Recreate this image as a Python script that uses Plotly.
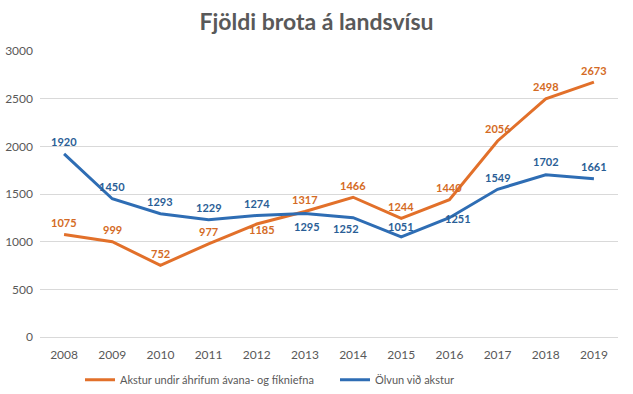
import plotly.graph_objects as go

years = ["2008", "2009", "2010", "2011", "2012", "2013", "2014", "2015", "2016", "2017", "2018", "2019"]
akstur = [1075, 999, 752, 977, 1185, 1317, 1466, 1244, 1440, 2056, 2498, 2673]
olvun = [1920, 1450, 1293, 1229, 1274, 1295, 1252, 1051, 1251, 1549, 1702, 1661]
name_akstur = "Akstur undir áhrifum ávana- og fíkniefna"
name_olvun = "Ölvun við akstur"

# label offsets (pixels) for data labels
shift_akstur = [(0, 12)] * 4 + [(5, -5)] + [(0, 12)] * 7
shift_olvun = [(0, 12)] * 5 + [(2, -13), (-7, -11), (0, 10), (9, -1), (0, 12), (0, 13), (0, 12)]

orange = "#E2702A"
blue = "#2E6DB4"
fnt = "Lato, 'Open Sans', sans-serif"

fig = go.Figure()
fig.add_trace(go.Scatter(x=years, y=akstur, name=name_akstur, mode="lines",
                         line=dict(color=orange, width=3)))
fig.add_trace(go.Scatter(x=years, y=olvun, name=name_olvun, mode="lines",
                         line=dict(color=blue, width=3)))

for vals, shifts, col in [(akstur, shift_akstur, "#D46A24"), (olvun, shift_olvun, "#2A5E96")]:
    for i, (v, (dx, dy)) in enumerate(zip(vals, shifts)):
        fig.add_annotation(x=i, y=v, text="<b>%d</b>" % v, showarrow=False,
                           xshift=dx, yshift=dy, xanchor="center", yanchor="middle",
                           font=dict(size=11, color=col, family=fnt))

fig.update_layout(
    width=633, height=394,
    margin=dict(l=40, r=15, t=51, b=57),
    paper_bgcolor="white", plot_bgcolor="white",
    font=dict(family=fnt, color="#595959", size=12),
    title=dict(text="<b>Fjöldi brota á landsvísu</b>", x=0.5, xanchor="center",
               yref="container", y=0.944, yanchor="middle",
               font=dict(size=23, color="#595959", family=fnt)),
    xaxis=dict(type="category", range=[-0.5, 11.5], showgrid=False, showline=False, ticks="",
               tickfont=dict(size=12, color="#595959"), ticklabelstandoff=9, automargin=False),
    yaxis=dict(range=[0, 3000], dtick=500, showgrid=True, gridcolor="#D9D9D9", gridwidth=1,
               zeroline=True, zerolinecolor="#D9D9D9", zerolinewidth=1, showline=False,
               tickfont=dict(size=12, color="#595959"), ticklabelstandoff=6, automargin=False),
    legend=dict(orientation="h", xref="container", x=80 / 633, xanchor="left",
                yref="container", y=0.036, yanchor="middle",
                font=dict(size=11, color="#595959"), itemwidth=30, entrywidth=210,
                traceorder="normal"),
    showlegend=True,
)
fig.write_html("out.html", config={"displayModeBar": False},
               post_script="document.body.style.margin='0';")
